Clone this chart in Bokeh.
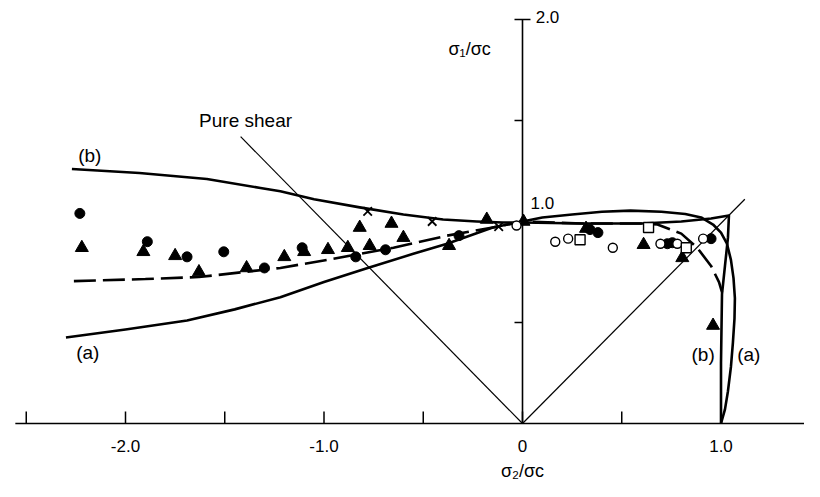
from bokeh.plotting import figure
from bokeh.models import Range1d
from bokeh.embed import file_html
from bokeh.resources import INLINE
from bokeh.core.properties import value

# ---------------- data ----------------
# curve (b): upper-left branch, flat top, right branch
curve_b_x = [-2.27, -1.93, -1.59, -1.32, -1.22, -1.05, -0.82, -0.60, -0.40, -0.23, -0.10, 0.0,
             0.30, 0.60, 0.80, 0.95, 1.04, 1.035, 1.02, 1.005, 1.0, 1.0]
curve_b_y = [1.26, 1.24, 1.21, 1.166, 1.15, 1.11, 1.07, 1.035, 1.01, 1.0, 0.995, 0.995,
             0.99, 0.99, 1.0, 1.015, 1.03, 0.92, 0.78, 0.64, 0.30, 0.0]

# curve (a): lower-left branch, arch, right branch
curve_a_x = [-2.30, -2.00, -1.69, -1.45, -1.22, -1.00, -0.78, -0.55, -0.38, -0.15, 0.0,
             0.10, 0.25, 0.40, 0.544, 0.70, 0.82, 0.90, 0.96, 1.00, 1.03, 1.05, 1.063,
             1.07, 1.068, 1.06, 1.05, 1.035, 1.02, 1.0]
curve_a_y = [0.426, 0.465, 0.51, 0.565, 0.625, 0.70, 0.77, 0.84, 0.89, 0.97, 1.0,
             1.02, 1.035, 1.048, 1.054, 1.048, 1.037, 1.02, 0.985, 0.945, 0.89, 0.81, 0.72,
             0.62, 0.52, 0.40, 0.28, 0.16, 0.07, 0.0]

# dashed curve
dash_x = [-2.26, -1.90, -1.63, -1.22, -0.985, -0.65, -0.38, -0.15, 0.0, 0.30, 0.60,
          0.68, 0.80, 0.88, 0.95, 0.99, 1.005]
dash_y = [0.705, 0.715, 0.725, 0.77, 0.81, 0.87, 0.93, 0.97, 1.0, 0.99, 0.99,
          0.985, 0.94, 0.87, 0.78, 0.70, 0.65]

# reference lines
shear_x = [0.0, -1.42]
shear_y = [0.0, 1.42]
equal_x = [0.0, 1.12]
equal_y = [0.0, 1.11]

# experimental points
fc_x = [-2.23, -1.89, -1.69, -1.505, -1.30, -1.11, -0.84, -0.69, -0.32, 0.34, 0.38, 0.73, 0.755, 0.95]
fc_y = [1.04, 0.90, 0.825, 0.85, 0.77, 0.87, 0.825, 0.86, 0.93, 0.96, 0.945, 0.89, 0.895, 0.915]

tr_x = [-2.22, -1.91, -1.75, -1.63, -1.39, -1.20, -1.10, -0.98, -0.88, -0.77, -0.82, -0.66,
        -0.60, -0.37, -0.18, 0.005, 0.32, 0.61, 0.805, 0.96]
tr_y = [0.87, 0.85, 0.83, 0.75, 0.77, 0.825, 0.85, 0.86, 0.87, 0.88, 0.97, 0.99,
        0.92, 0.88, 1.01, 1.0, 0.965, 0.885, 0.82, 0.485]

oc_x = [-0.03, 0.165, 0.23, 0.455, 0.695, 0.78, 0.91]
oc_y = [0.98, 0.90, 0.915, 0.87, 0.89, 0.89, 0.915]

sq_x = [0.29, 0.635, 0.825]
sq_y = [0.91, 0.97, 0.87]

cr_x = [-0.78, -0.455, -0.12]
cr_y = [1.05, 1.00, 0.975]

# axes
x_ticks = [-2.5, -2.0, -1.5, -1.0, -0.5, 0.0, 0.5, 1.0, 1.5]
x_tick_labels = {-2.0: "-2.0", -1.0: "-1.0", 0.0: "0", 1.0: "1.0"}
y_ticks_left = [0.5, 1.5]
y_tick_cross = [2.0]
x_axis_start = -2.555
y_axis_top = 2.0

# ---------------- layout ----------------
W, H = 804, 481
XS, YS = 198.5, 202.0          # px per unit
OX, OY = 522.0, 423.0          # picture px of the origin
x_start = -OX / XS
x_end = x_start + W / XS
y_end = OY / YS
y_start = y_end - H / YS

p = figure(width=W, height=H, x_range=Range1d(x_start, x_end), y_range=Range1d(y_start, y_end),
           output_backend="svg", toolbar_location=None, x_axis_location=None,
           y_axis_location=None, min_border=0)
p.grid.visible = False
p.outline_line_color = None
p.background_fill_color = "white"

FONT = value("Liberation Sans")
ink = "black"

# axes lines
p.line([x_axis_start, x_end], [0, 0], line_color=ink, line_width=1.6)
p.line([0, 0], [0, y_axis_top], line_color=ink, line_width=1.6)
tick_h = 12 / YS
p.segment(x0=x_ticks, y0=[0] * len(x_ticks), x1=x_ticks, y1=[tick_h] * len(x_ticks),
          line_color=ink, line_width=1.5)
tw = 8 / XS
p.segment(x0=[-tw] * len(y_ticks_left), y0=y_ticks_left, x1=[0] * len(y_ticks_left), y1=y_ticks_left,
          line_color=ink, line_width=1.5)
p.segment(x0=[-tw] * len(y_tick_cross), y0=y_tick_cross, x1=[tw] * len(y_tick_cross), y1=y_tick_cross,
          line_color=ink, line_width=1.5)

lx = list(x_tick_labels.keys())
lt = list(x_tick_labels.values())
p.text(x=lx, y=[-22 / YS] * len(lx), text=lt, text_align="center", text_baseline="middle",
       text_font=FONT, text_font_size="17px", text_color=ink)

# reference lines
p.line(shear_x, shear_y, line_color=ink, line_width=1.2)
p.line(equal_x, equal_y, line_color=ink, line_width=1.2)

# curves
p.line(curve_b_x, curve_b_y, line_color=ink, line_width=2.6, line_join="round")
p.line(curve_a_x, curve_a_y, line_color=ink, line_width=2.6, line_join="round")
p.line(dash_x, dash_y, line_color=ink, line_width=2.6, line_dash="22 7")

# points
p.scatter(fc_x, fc_y, marker="circle", size=10, fill_color=ink, line_color=ink)
p.scatter(tr_x, tr_y, marker="triangle", size=13, fill_color=ink, line_color=ink)
p.scatter(oc_x, oc_y, marker="circle", size=9, fill_color="white", line_color=ink, line_width=1.4)
p.scatter(sq_x, sq_y, marker="square", size=10, fill_color="white", line_color=ink, line_width=1.4)
p.scatter(cr_x, cr_y, marker="x", size=12, line_color=ink, line_width=1.8)

# labels
def lab(x, y, t, align="center", size="19px"):
    p.text(x=[x], y=[y], text=[t], text_align=align, text_baseline="middle",
           text_font=FONT, text_font_size=size, text_color=ink)

lab(-1.395, 1.50, "Pure shear")
lab(-2.18, 1.327, "(b)")
lab(-2.19, 0.35, "(a)")
lab(0.91, 0.34, "(b)")
lab(1.14, 0.34, "(a)")
lab(0.10, 1.09, "1.0", size="17px")
lab(0.126, 2.01, "2.0", size="17px")
lab(-0.16, 1.856, "σ₁/σc", align="right", size="18px")
lab(0.0, -0.233, "σ₂/σc", size="18px")

open("out.html", "w").write(file_html(p, INLINE))
